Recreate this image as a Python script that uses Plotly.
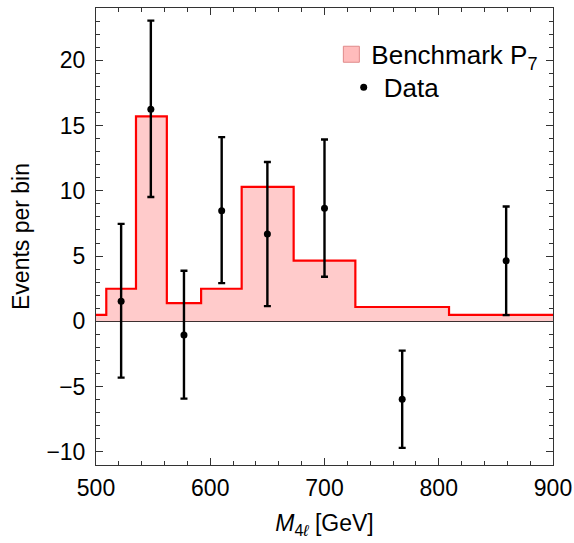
import plotly.graph_objects as go

# Histogram (Benchmark P7): bin edges and heights
bin_edges = [490, 509, 535, 562, 592, 627.5, 673, 727, 809, 910]
bin_values = [0.5, 2.5, 15.7, 1.4, 2.5, 10.3, 4.65, 1.1, 0.5]

# Data points with asymmetric errors
data_x = [522, 548, 577, 610, 650, 700, 768, 859]
data_y = [1.55, 16.25, -1.05, 8.47, 6.7, 8.67, -5.97, 4.64]
data_hi = [7.47, 23.03, 3.88, 14.11, 12.2, 13.93, -2.24, 8.8]
data_lo = [-4.31, 9.52, -5.92, 2.93, 1.17, 3.42, -9.69, 0.48]

x_ticks = [500, 600, 700, 800, 900]
y_ticks = [-10, -5, 0, 5, 10, 15, 20]

FONT = "Liberation Sans, Arial, sans-serif"

hx = list(bin_edges)
hy = list(bin_values) + [bin_values[-1]]

fig = go.Figure()
fig.add_trace(go.Scatter(
    x=hx, y=hy, mode="lines", line=dict(shape="hv", color="#ff0000", width=2.2),
    fill="tozeroy", fillcolor="rgba(255,200,200,0.95)", showlegend=False,
    hoverinfo="skip"))
fig.add_trace(go.Scatter(
    x=data_x, y=data_y, mode="markers",
    marker=dict(color="black", size=7),
    error_y=dict(type="data", symmetric=False,
                 array=[h - y for h, y in zip(data_hi, data_y)],
                 arrayminus=[y - l for l, y in zip(data_lo, data_y)],
                 color="black", thickness=2.4, width=3.5),
    showlegend=False))
# legend entries
fig.add_trace(go.Scatter(
    x=[None], y=[None], mode="markers", name="Benchmark P<sub>7</sub>",
    legend="legend",
    marker=dict(symbol="square", size=16, color="#ffbcbc",
                line=dict(color="#e08a8a", width=1))))
fig.add_trace(go.Scatter(
    x=[None], y=[None], mode="markers", name="Data",
    legend="legend2",
    marker=dict(symbol="circle", size=7, color="black")))

axis_common = dict(
    showline=True, mirror="allticks", linecolor="#333333", linewidth=1,
    ticks="inside", ticklen=7, tickcolor="#333333", tickwidth=1,
    showgrid=False, automargin=False,
    tickfont=dict(family=FONT, size=23, color="black"),
)
fig.update_xaxes(range=[500, 900], tickvals=x_ticks, zeroline=False,
                 minor=dict(dtick=20, ticks="inside", ticklen=4, tickcolor="#333333"),
                 ticklabelstandoff=2,
                 title=dict(text="<i>M</i><sub>4<i>ℓ</i></sub> [GeV]",
                            font=dict(family=FONT, size=23, color="black"),
                            standoff=15),
                 **axis_common)
fig.update_yaxes(range=[-11, 24], tickvals=y_ticks, zeroline=True,
                 zerolinecolor="black", zerolinewidth=1,
                 minor=dict(dtick=1, ticks="inside", ticklen=4, tickcolor="#333333"),
                 ticklabelstandoff=5,
                 title=dict(text="Events per bin",
                            font=dict(family=FONT, size=23, color="black"),
                            standoff=10),
                 **axis_common)
fig.update_layout(
    width=574, height=543,
    margin=dict(l=96, r=21, t=8, b=78),
    plot_bgcolor="white", paper_bgcolor="white",
    font=dict(family=FONT, color="black"),
    legend=dict(x=0.515, y=0.95, xanchor="left", yanchor="top",
                bgcolor="rgba(0,0,0,0)", font=dict(family=FONT, size=26),
                itemsizing="trace"),
    legend2=dict(x=0.542, y=0.878, xanchor="left", yanchor="top",
                 bgcolor="rgba(0,0,0,0)", font=dict(family=FONT, size=26),
                 itemsizing="trace"),
)
fig.write_html("out.html", config={"displayModeBar": False},
               post_script="document.body.style.margin='0';")
